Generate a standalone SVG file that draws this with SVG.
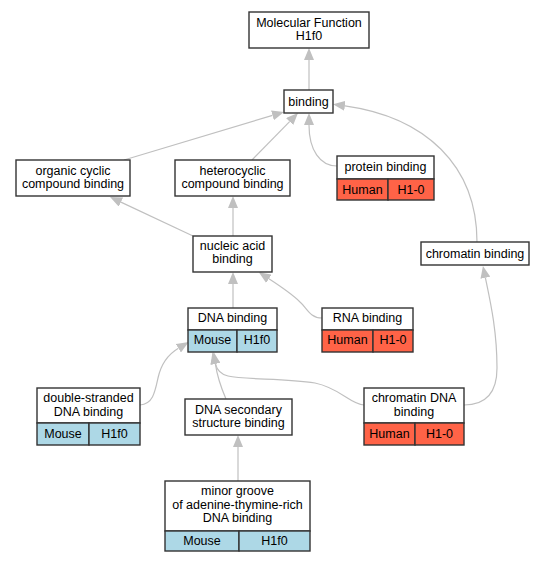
<svg xmlns="http://www.w3.org/2000/svg" width="549" height="563" viewBox="0 0 549 563">
<style>
.box{fill:#fff;stroke:#333;stroke-width:1.4}
.mouse{fill:#add8e6;stroke:#333;stroke-width:1.4}
.human{fill:#ff6347;stroke:#333;stroke-width:1.4}
text{font-family:"Liberation Sans",Arial,sans-serif;font-size:12.5px;fill:#000;text-anchor:middle}
.edge{fill:none;stroke:#c0c0c0;stroke-width:1.2;marker-end:url(#arr)}
</style>
<defs>
<marker id="arr" viewBox="0 0 12 10" refX="0" refY="5" markerWidth="12" markerHeight="10" markerUnits="userSpaceOnUse" orient="auto">
<path d="M0,0 L12,5 L0,10 z" fill="#c0c0c0"/>
</marker>
</defs>
<g id="edges">
<path class="edge" d="M309,90 L309,60"/>
<path class="edge" d="M124,160 L272.5,115.4"/>
<path class="edge" d="M252,160 L289.6,121.6"/>
<path class="edge" d="M337,166 C320,166 309,150 309,125"/>
<path class="edge" d="M477,242 C477,165 425,117 344.9,105.8"/>
<path class="edge" d="M193,236 L120.9,202.1"/>
<path class="edge" d="M233,236 L233,208"/>
<path class="edge" d="M233,308 L233,284"/>
<path class="edge" d="M322,318 C310,318 307,308 300,302 C292,294 280,286 268.9,278.8"/>
<path class="edge" d="M464,405 C485,405 497,393 497,368 C497,330 490,300 485.4,277.8"/>
<path class="edge" d="M140,405 C153,404 155,392 158,378 C161,364 167,355 178.4,348.2"/>
<path class="edge" d="M226,399 C220,385 217,375 215.4,363.8"/>
<path class="edge" d="M364,405 C350,404 340,388 315,383 C285,378 245,380 228,376 C220,374 217,370 215.4,363.8"/>
<path class="edge" d="M238,481 L238,447"/>
</g>
<g id="mf">
<rect class="box" x="249" y="12" width="120" height="36"/>
<text x="309" y="26.5">Molecular Function</text>
<text x="309" y="39.5">H1f0</text>
</g>
<g id="binding">
<rect class="box" x="284" y="90" width="49" height="23"/>
<text x="308.5" y="106">binding</text>
</g>
<g id="organic">
<rect class="box" x="16" y="160" width="114" height="36"/>
<text x="73" y="174.5">organic cyclic</text>
<text x="73" y="187.5">compound binding</text>
</g>
<g id="heterocyclic">
<rect class="box" x="175" y="160" width="115" height="36"/>
<text x="232.5" y="174.5">heterocyclic</text>
<text x="232.5" y="187.5">compound binding</text>
</g>
<g id="protein">
<rect class="box" x="337" y="156" width="97" height="23"/>
<rect class="human" x="337" y="179" width="51" height="21"/>
<rect class="human" x="388" y="179" width="46" height="21"/>
<text x="385.5" y="171">protein binding</text>
<text x="362.5" y="193.5">Human</text>
<text x="411" y="193.5">H1-0</text>
</g>
<g id="chromatin">
<rect class="box" x="421" y="242" width="108" height="23"/>
<text x="475" y="258">chromatin binding</text>
</g>
<g id="nucleic">
<rect class="box" x="193" y="236" width="79" height="36"/>
<text x="232.5" y="250">nucleic acid</text>
<text x="232.5" y="263">binding</text>
</g>
<g id="dna">
<rect class="box" x="188" y="308" width="89" height="22"/>
<rect class="mouse" x="188" y="330" width="49" height="22"/>
<rect class="mouse" x="237" y="330" width="40" height="22"/>
<text x="232.5" y="322">DNA binding</text>
<text x="212.5" y="344">Mouse</text>
<text x="257" y="344">H1f0</text>
</g>
<g id="rna">
<rect class="box" x="322" y="308" width="91" height="22"/>
<rect class="human" x="322" y="330" width="51" height="22"/>
<rect class="human" x="373" y="330" width="40" height="22"/>
<text x="367.5" y="322">RNA binding</text>
<text x="347.5" y="344">Human</text>
<text x="393" y="344">H1-0</text>
</g>
<g id="dsdna">
<rect class="box" x="37" y="388" width="103" height="35"/>
<rect class="mouse" x="37" y="423" width="52" height="22"/>
<rect class="mouse" x="89" y="423" width="51" height="22"/>
<text x="88.5" y="402">double-stranded</text>
<text x="88.5" y="415.5">DNA binding</text>
<text x="63" y="437.5">Mouse</text>
<text x="114.5" y="437.5">H1f0</text>
</g>
<g id="secondary">
<rect class="box" x="185" y="399" width="107" height="36"/>
<text x="238.5" y="413.5">DNA secondary</text>
<text x="238.5" y="426.5">structure binding</text>
</g>
<g id="chromatindna">
<rect class="box" x="364" y="388" width="100" height="35"/>
<rect class="human" x="364" y="423" width="51" height="22"/>
<rect class="human" x="415" y="423" width="49" height="22"/>
<text x="414" y="402">chromatin DNA</text>
<text x="414" y="415.5">binding</text>
<text x="389.5" y="437.5">Human</text>
<text x="439.5" y="437.5">H1-0</text>
</g>
<g id="minor">
<rect class="box" x="165" y="481" width="145" height="50"/>
<rect class="mouse" x="165" y="531" width="74" height="20"/>
<rect class="mouse" x="239" y="531" width="71" height="20"/>
<text x="237.5" y="495">minor groove</text>
<text x="237.5" y="508.5">of adenine-thymine-rich</text>
<text x="237.5" y="522">DNA binding</text>
<text x="202" y="545">Mouse</text>
<text x="274.5" y="545">H1f0</text>
</g>
</svg>
